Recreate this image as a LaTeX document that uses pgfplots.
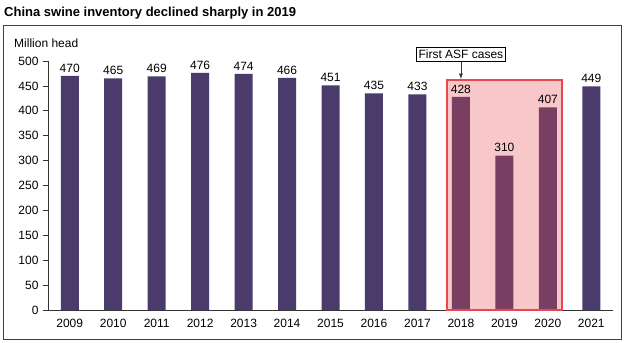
\documentclass[border=0pt]{standalone}
\usepackage{pgfplots}
\pgfplotsset{compat=1.18}
\usepackage{fontspec}
\setmainfont{Liberation Sans}
\definecolor{barc}{HTML}{4A3B6B}
\definecolor{hl}{HTML}{E8474F}
\begin{document}
\begin{tikzpicture}[x=1bp,y=1bp]
\path[use as bounding box] (0,0) rectangle (628,342);
\draw[color=black!75, line width=1bp] (3.5,3) rectangle (621.5,316.5);
\node[anchor=base west, inner sep=0, font=\fontsize{13bp}{15bp}\selectfont\bfseries] at (4,326) {China swine inventory declined sharply in 2019};
\node[anchor=west, inner sep=0, font=\fontsize{12bp}{14bp}\selectfont] at (14,299) {Million head};
\begin{axis}[
  at={(69.75bp,32bp)}, anchor=origin,
  scale only axis, width=565bp, height=249bp,
  xmin=-0.5, xmax=12.5, ymin=0, ymax=500,
  axis x line*=bottom, axis y line*=left,
  axis line style={black!80, line width=0.9bp},
  xtick=data,
  xticklabels={2009,2010,2011,2012,2013,2014,2015,2016,2017,2018,2019,2020,2021},
  ytick={0,50,...,500},
  tick style={black!80, line width=0.8bp},
  major tick length=5bp,
  tick align=outside,
  x tick style={draw=none},
  ticklabel style={font=\fontsize{12bp}{14bp}\selectfont},
  /pgf/number format/assume math mode=true,
  /pgf/number format/1000 sep={},
  yticklabel style={xshift=-1bp},
  xticklabel style={yshift=-1bp},
  ybar, bar width=18bp,
  nodes near coords,
  every node near coord/.style={font=\fontsize{12bp}{14bp}\selectfont, color=black},
  clip=false,
]
\addplot[fill=barc, draw=none] coordinates {
(0,470) (1,465) (2,469) (3,476) (4,474) (5,466) (6,451) (7,435) (8,433) (9,428) (10,310) (11,407) (12,449)};
\fill[hl, fill opacity=0.3] (axis cs:8.68,0) rectangle (axis cs:11.32,462);
\draw[hl, line width=2bp] (axis cs:8.68,0) rectangle (axis cs:11.32,462);
\node[draw=black, line width=0.7bp, fill=white, inner xsep=2bp, inner ysep=2.5bp, font=\fontsize{12bp}{14bp}\selectfont] (asf) at (axis cs:9,513) {First ASF cases};
\draw[-latex, line width=0.8bp, black!80] (asf.south) -- (axis cs:9,464);
\end{axis}
\end{tikzpicture}
\end{document}
